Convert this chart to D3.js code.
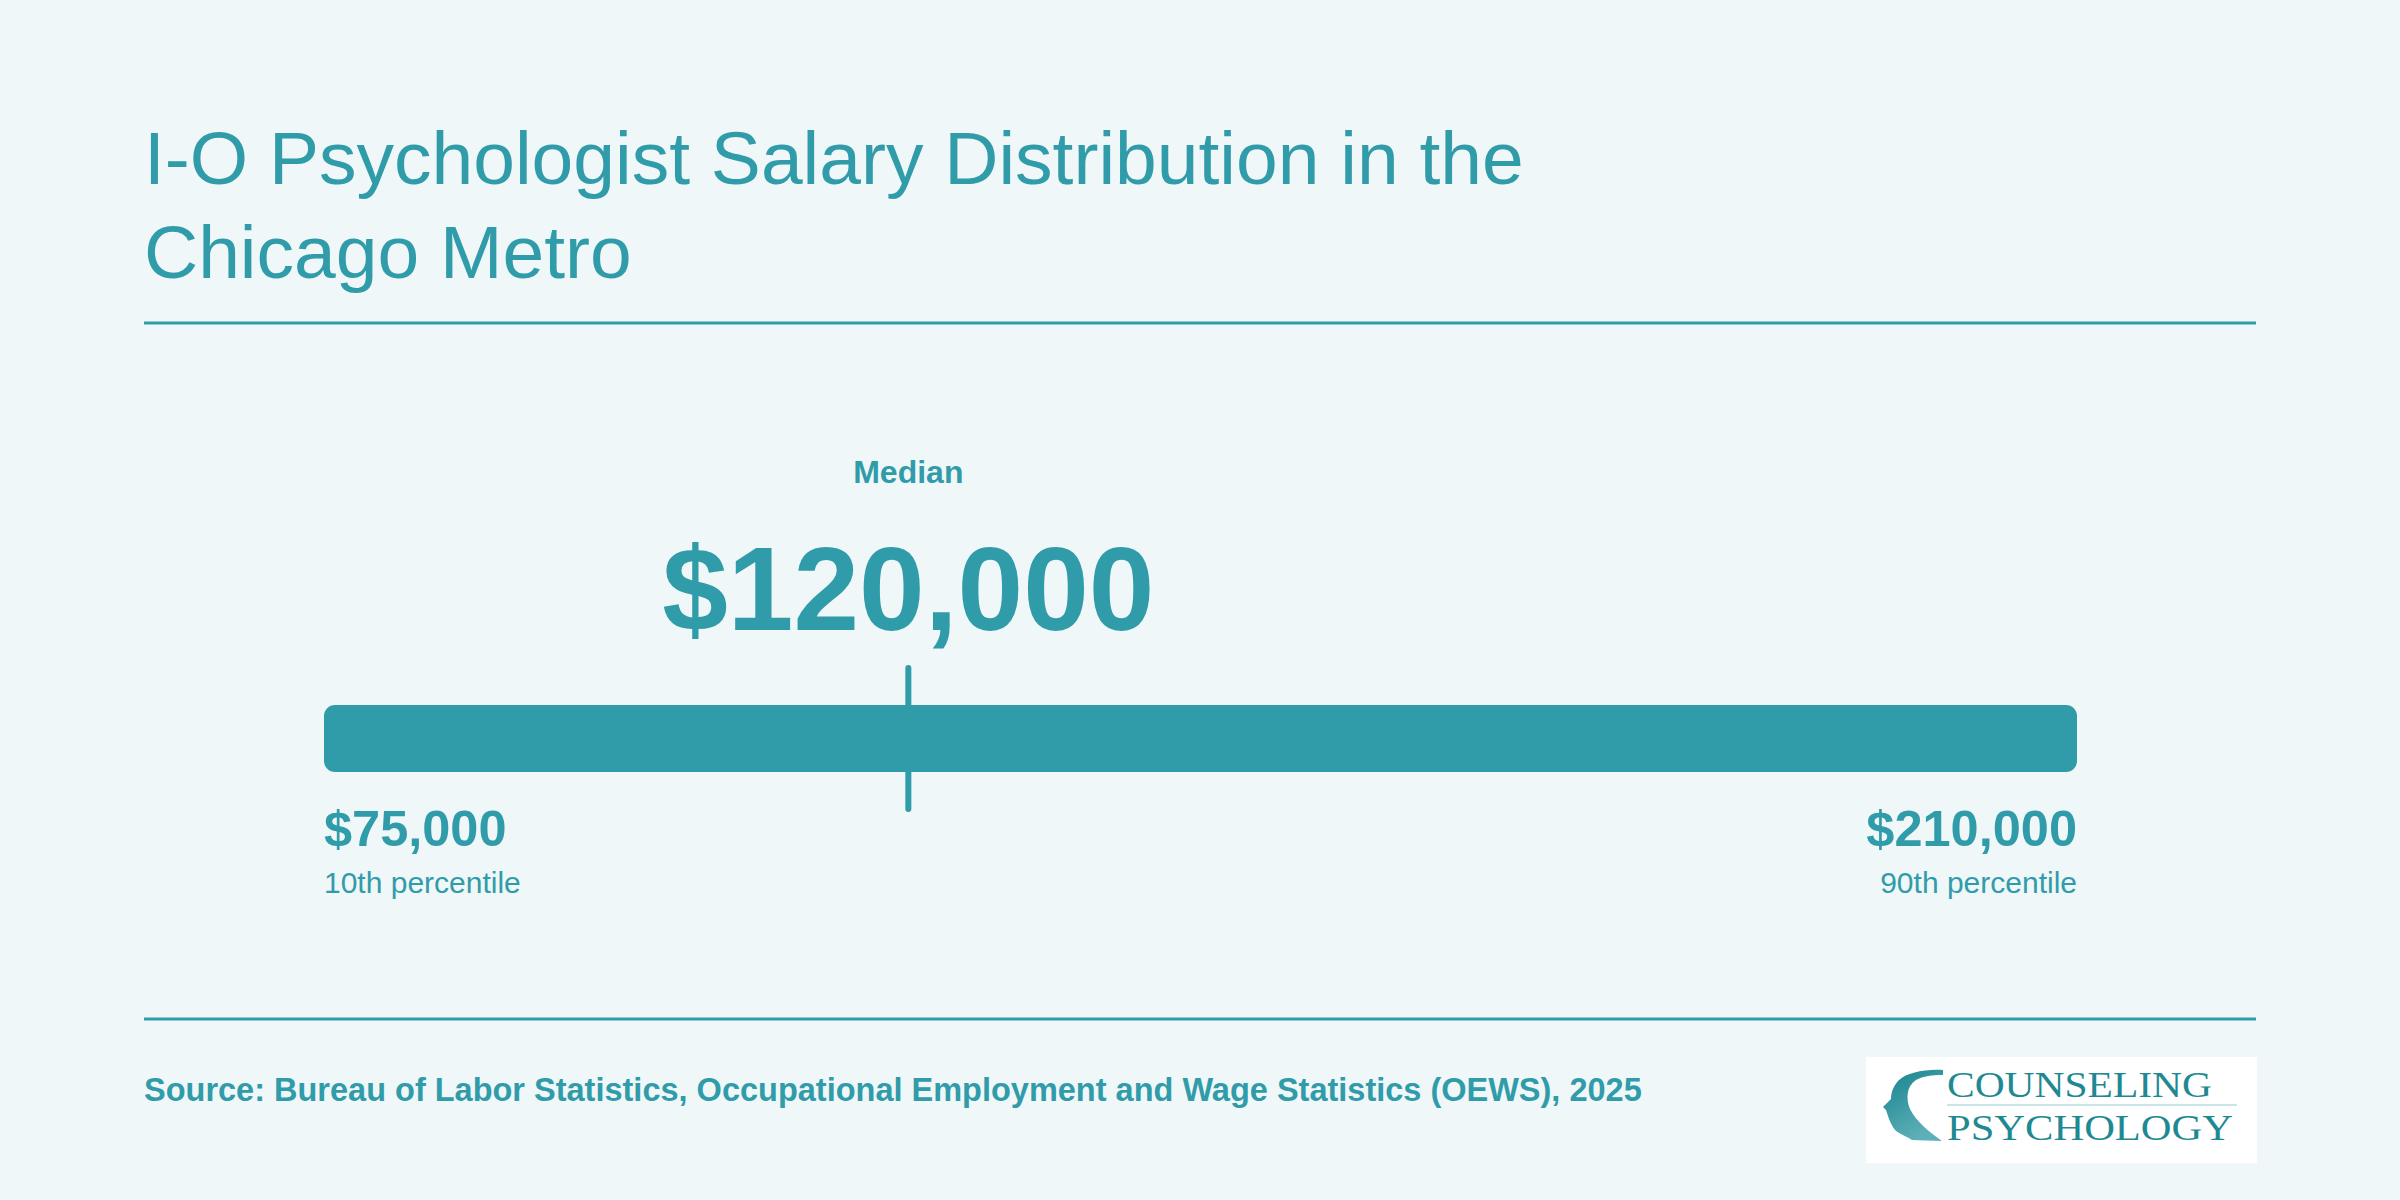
<!DOCTYPE html>
<html>
<head>
<meta charset="utf-8">
<script src="https://cdn.jsdelivr.net/npm/d3@7"></script>
<style>
  body { margin: 0; background: #eff7f9; }
  svg { display: block; font-family: 'Liberation Sans', Arial, sans-serif; }
</style>
</head>
<body>
<div id="chart"></div>
<script>
const titleLines = ['I-O Psychologist Salary Distribution in the', 'Chicago Metro'];
const percentileNames = ['10th percentile', 'Median', '90th percentile'];
const salaryValues = [75000, 120000, 210000];
const sourceText = 'Source: Bureau of Labor Statistics, Occupational Employment and Wage Statistics (OEWS), 2025';
const logoWords = ['COUNSELING', 'PSYCHOLOGY'];

const teal = '#319ca9';

class SalaryRange {
  constructor(_config) {
    this.config = {
      parentElement: _config.parentElement,
      containerWidth: 2400,
      containerHeight: 1200,
      margin: { left: 144, right: 144 },
    };
    this.initVis();
  }

  initVis() {
    const vis = this;
    vis.svg = d3.select(vis.config.parentElement)
      .append('svg')
      .attr('width', vis.config.containerWidth)
      .attr('height', vis.config.containerHeight);

    vis.svg.append('rect')
      .attr('width', vis.config.containerWidth)
      .attr('height', vis.config.containerHeight)
      .attr('fill', '#eff7f9');

    const right = vis.config.containerWidth - vis.config.margin.right;

    // title
    vis.svg.selectAll('.title')
      .data(titleLines)
      .join('text')
      .attr('class', 'title')
      .attr('x', vis.config.margin.left)
      .attr('y', (d, i) => 184 + i * 94)
      .attr('fill', teal)
      .style('font-size', '75px')
      .text((d) => d);

    vis.svg.selectAll('.rule')
      .data([323, 1019])
      .join('line')
      .attr('class', 'rule')
      .attr('x1', vis.config.margin.left)
      .attr('x2', right)
      .attr('y1', (d) => d)
      .attr('y2', (d) => d)
      .attr('stroke', teal)
      .attr('stroke-width', 3);

    vis.svg.append('text')
      .attr('x', vis.config.margin.left)
      .attr('y', 1101)
      .attr('fill', teal)
      .style('font-size', '32.5px')
      .style('font-weight', 'bold')
      .text(sourceText);

    vis.drawLogo(1866, 1057);
    vis.updateVis();
  }

  updateVis() {
    const vis = this;
    vis.xScale = d3.scaleLinear()
      .domain(d3.extent(salaryValues))
      .range([324, 2077]);
    vis.fmt = (v) => '$' + d3.format(',')(v);
    vis.renderVis();
  }

  renderVis() {
    const vis = this;
    const x = vis.xScale;
    const [low, median, high] = salaryValues;

    vis.svg.append('rect')
      .attr('x', x(low))
      .attr('y', 705)
      .attr('width', x(high) - x(low))
      .attr('height', 67)
      .attr('rx', 11)
      .attr('fill', teal);

    vis.svg.append('line')
      .attr('x1', x(median))
      .attr('x2', x(median))
      .attr('y1', 668)
      .attr('y2', 809)
      .attr('stroke', teal)
      .attr('stroke-width', 6)
      .attr('stroke-linecap', 'round');

    vis.svg.append('text')
      .attr('x', x(median))
      .attr('y', 483)
      .attr('text-anchor', 'middle')
      .attr('fill', teal)
      .style('font-size', '32px')
      .style('font-weight', 'bold')
      .text(percentileNames[1]);

    vis.svg.append('text')
      .attr('x', x(median))
      .attr('y', 630)
      .attr('text-anchor', 'middle')
      .attr('fill', teal)
      .style('font-size', '118px')
      .style('font-weight', 'bold')
      .text(vis.fmt(median));

    const ends = [
      { value: low, name: percentileNames[0], anchor: 'start' },
      { value: high, name: percentileNames[2], anchor: 'end' },
    ];

    vis.svg.selectAll('.end-value')
      .data(ends)
      .join('text')
      .attr('class', 'end-value')
      .attr('x', (d) => x(d.value))
      .attr('y', 846)
      .attr('text-anchor', (d) => d.anchor)
      .attr('fill', teal)
      .style('font-size', '50.5px')
      .style('font-weight', 'bold')
      .text((d) => vis.fmt(d.value));

    vis.svg.selectAll('.end-name')
      .data(ends)
      .join('text')
      .attr('class', 'end-name')
      .attr('x', (d) => x(d.value))
      .attr('y', 893)
      .attr('text-anchor', (d) => d.anchor)
      .attr('fill', teal)
      .style('font-size', '30px')
      .text((d) => d.name);
  }

  drawLogo(lx, ly) {
    const vis = this;
    const g = vis.svg.append('g').attr('transform', `translate(${lx},${ly})`);

    const grad = vis.svg.append('defs').append('linearGradient')
      .attr('id', 'headGrad')
      .attr('x1', 0).attr('y1', 0)
      .attr('x2', 0.5).attr('y2', 1);
    grad.append('stop').attr('offset', 0).attr('stop-color', '#16838d');
    grad.append('stop').attr('offset', 1).attr('stop-color', '#5eb0b8');

    g.append('rect')
      .attr('width', 391)
      .attr('height', 106)
      .attr('fill', '#ffffff');

    // head silhouette
    g.append('path')
      .attr('d', 'M77,13 C60,12 41,15 32,24 C27,30 25,36 25,42 L21,46 L17,50 L20,53 L21,56 L22,59 L23,62 C25,67 28,72 30,74 C36,78 42,80 46,83 L76,84 C62,74 50,64 44,52 C40,42 40,30 50,23 C57,19 66,18 77,18 Z')
      .attr('fill', 'url(#headGrad)');

    g.append('line')
      .attr('x1', 81).attr('x2', 371)
      .attr('y1', 48).attr('y2', 48)
      .attr('stroke', '#b7dde0')
      .attr('stroke-width', 1.5);

    g.selectAll('.logo-word')
      .data(logoWords)
      .join('text')
      .attr('class', 'logo-word')
      .attr('x', 81)
      .attr('y', (d, i) => (i === 0 ? 40 : 83))
      .attr('textLength', (d, i) => (i === 0 ? 265 : 286))
      .attr('lengthAdjust', 'spacingAndGlyphs')
      .attr('fill', '#1f8993')
      .style('font-family', "'Liberation Serif', 'DejaVu Serif', serif")
      .style('font-size', '35px')
      .text((d) => d);
  }
}

new SalaryRange({ parentElement: '#chart' });
</script>
</body>
</html>
